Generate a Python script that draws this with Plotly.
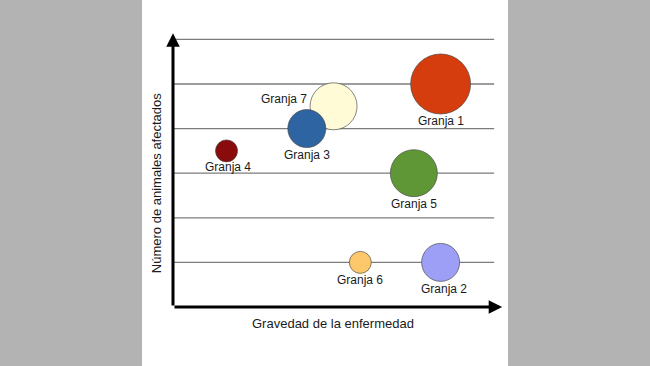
import plotly.graph_objects as go

# ---- data ----
granjas = ["Granja 1", "Granja 2", "Granja 7", "Granja 3", "Granja 4", "Granja 5", "Granja 6"]
gravedad = [6.0, 6.0, 3.6, 3.0, 1.2, 5.4, 4.2]
animales = [5.0, 1.0, 4.5, 4.0, 3.5, 3.0, 1.0]
tamano = [60, 38, 47, 38, 22, 47, 22]
colores = ["#d63d0e", "#9d9ff6", "#fefbd6", "#2e64a1", "#8a0b0b", "#5f9636", "#fdc86b"]
niveles = [1, 2, 3, 4, 5, 6]
titulo_x = "Gravedad de la enfermedad"
titulo_y = "Número de animales afectados"

# label placement (style only)
lab_pos = ["below", "below", "left", "below", "below", "below", "below"]
lab_dx = [0, 3, 0, 0, 1, 0, 0]
lab_dy = [2, 1, 7, 2, 4, 2, 2]

fig = go.Figure()

font = dict(family="Liberation Sans, Arial, sans-serif", size=12, color="#1a1a1a")

# gridlines
shapes = []
for lv in niveles:
    shapes.append(dict(type="line", xref="x", yref="y", x0=0, x1=7.2, y0=lv, y1=lv,
                       line=dict(color="#7d7d7d", width=1.3), layer="below"))

fig.add_trace(go.Scatter(
    x=gravedad, y=animales, mode="markers",
    marker=dict(size=tamano, sizemode="diameter", color=colores, opacity=1,
                line=dict(color="rgba(70,70,70,0.65)", width=1)),
    hoverinfo="text", text=granjas, showlegend=False,
))

annotations = []
for g, xv, yv, s, pos, dx, dy in zip(granjas, gravedad, animales, tamano, lab_pos, lab_dx, lab_dy):
    if pos == "below":
        annotations.append(dict(x=xv, y=yv, xref="x", yref="y", text=g, showarrow=False,
                                xanchor="center", yanchor="top", yshift=-(s / 2) + dy, xshift=dx,
                                font=font))
    else:
        annotations.append(dict(x=xv, y=yv, xref="x", yref="y", text=g, showarrow=False,
                                xanchor="right", yanchor="middle", xshift=-(s / 2) - 1, yshift=dy,
                                font=font))

# axes with arrows
annotations.append(dict(x=7.38, y=0, ax=0, ay=0, xref="x", yref="y", axref="x", ayref="y",
                        text="", showarrow=True, arrowhead=2, arrowsize=0.9, arrowwidth=3,
                        arrowcolor="black"))
annotations.append(dict(x=0, y=6.14, ax=0, ay=0, xref="x", yref="y", axref="x", ayref="y",
                        text="", showarrow=True, arrowhead=2, arrowsize=0.9, arrowwidth=3,
                        arrowcolor="black"))

# axis titles
annotations.append(dict(x=3.58, y=-0.38, xref="x", yref="y", text=titulo_x, showarrow=False,
                        font=dict(family=font["family"], size=13, color="#1a1a1a")))
annotations.append(dict(x=-0.365, y=2.77, xref="x", yref="y", text=titulo_y, showarrow=False,
                        textangle=-90,
                        font=dict(family=font["family"], size=13, color="#1a1a1a")))

fig.update_layout(
    width=650, height=366,
    margin=dict(l=142, r=142, t=0, b=0),
    paper_bgcolor="#b3b3b3", plot_bgcolor="white",
    xaxis=dict(range=[-0.695, 7.511], visible=False, fixedrange=True),
    yaxis=dict(range=[-1.323, 6.883], visible=False, fixedrange=True),
    shapes=shapes, annotations=annotations,
)

fig.write_html(
    "out.html",
    config={"displayModeBar": False},
    post_script="document.body.style.margin='0';document.body.style.overflow='hidden';"
                "document.body.style.background='#b3b3b3';",
)
